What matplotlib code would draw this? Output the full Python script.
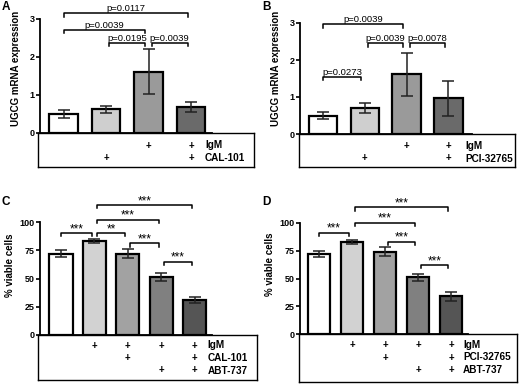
import matplotlib
matplotlib.use("Agg")
from matplotlib import pyplot as plt

plt.rcParams['font.family'] = ['Liberation Sans', 'DejaVu Sans']

W, H = 520, 388

# panel A
a_vals = [0.50, 0.62, 1.61, 0.68]
a_err = [0.10, 0.09, 0.59, 0.14]
a_rows = ['IgM', 'CAL-101']
a_plus = [[0, 0, 1, 1], [0, 1, 0, 1]]
a_brackets = [(0, 3, 3.15, 'p=0.0117'), (0, 2, 2.72, 'p=0.0039'),
              (1, 2, 2.38, 'p=0.0195'), (2, 3, 2.38, 'p=0.0039')]

# panel B
b_vals = [0.50, 0.70, 1.61, 0.96]
b_err = [0.10, 0.13, 0.59, 0.46]
b_rows = ['IgM', 'PCI-32765']
b_plus = [[0, 0, 1, 1], [0, 1, 0, 1]]
b_brackets = [(0, 2, 2.97, 'p=0.0039'), (1, 2, 2.45, 'p=0.0039'),
              (2, 3, 2.45, 'p=0.0078'), (0, 1, 1.55, 'p=0.0273')]

# panel C
c_vals = [72, 83, 72, 51, 31]
c_err = [3, 2, 4, 3.5, 3]
c_rows = ['IgM', 'CAL-101', 'ABT-737']
c_plus = [[0, 1, 1, 1, 1], [0, 0, 1, 0, 1], [0, 0, 0, 1, 1]]
c_brackets = [(0, 1, 90, '***'), (1, 4, 115, '***'), (1, 3, 102, '***'),
              (1, 2, 90, '**'), (2, 3, 81, '***'), (3, 4, 65, '***')]

# panel D
d_vals = [72, 83, 74, 51, 34]
d_err = [3, 2, 4, 3.5, 4]
d_rows = ['IgM', 'PCI-32765', 'ABT-737']
d_plus = [[0, 1, 1, 1, 1], [0, 0, 1, 0, 1], [0, 0, 0, 1, 1]]
d_brackets = [(0, 1, 91, '***'), (1, 4, 114, '***'), (1, 3, 100, '***'),
              (2, 3, 83, '***'), (3, 4, 62, '***')]

grays4 = ['white', '#cfcfcf', '#9a9a9a', '#6a6a6a']
grays5 = ['white', '#d2d2d2', '#a2a2a2', '#808080', '#555555']


def px_axes(fig, l, t, r, b):
    return fig.add_axes([l / W, 1 - b / H, (r - l) / W, (b - t) / H])


def panel(fig, letter, vals, err, rows, plus, brackets, colors, ymax, yticks,
          ylabel, g):
    # g: pixel geometry
    left, right, bottom, top = g['left'], g['right'], g['bottom'], g['top']
    c0, step, ppu = g['c0'], g['step'], g['ppu']
    n = len(vals)
    ax = px_axes(fig, left, top, right, bottom)
    x0 = -(c0 - left) / step
    x1 = x0 + (right - left) / step
    ax.set_xlim(x0, x1)
    ax.set_ylim(0, (bottom - top) / ppu)
    xs = list(range(n))
    ax.bar(xs, vals, width=g['bw'], color=colors, edgecolor='black',
           linewidth=1.6, zorder=2)
    ax.errorbar(xs, vals, yerr=err, fmt='none', ecolor='#222222',
                elinewidth=1.1, capsize=g['cap'], capthick=1.1, zorder=3)
    for s in ['top', 'right']:
        ax.spines[s].set_visible(False)
    ax.spines['left'].set_bounds(0, ymax)
    ax.spines['left'].set_linewidth(1.3)
    ax.spines['bottom'].set_linewidth(1.3)
    ax.set_xticks([])
    ax.set_yticks(yticks)
    ax.tick_params(axis='y', length=3, width=1.2, labelsize=6.5, pad=1)
    for lab in ax.get_yticklabels():
        lab.set_fontweight('bold')
    ax.set_ylabel(ylabel, fontsize=7, fontweight='bold', labelpad=g['lp'])
    tick = g['btick']
    for i, j, y, txt in brackets:
        xa, xb = i + 0.08, j - 0.08
        if i == 0:
            xa = i
        ax.plot([xa, xa, xb, xb], [y - tick, y, y, y - tick], color='black',
                lw=1.1, clip_on=False)
        if txt.startswith('*'):
            ax.text((xa + xb) / 2, y - g['btick'] * 0.6, txt, ha='center',
                    va='bottom', fontsize=8.5, clip_on=False)
        else:
            ax.text((xa + xb) / 2, y, txt, ha='center', va='bottom',
                    fontsize=6.8, clip_on=False)

    # condition table
    tl, tr, tb = g['tl'], g['tr'], g['tb']
    tax = px_axes(fig, tl, bottom, tr, tb)
    tx0 = x0 - (left - tl) / step
    tax.set_xlim(tx0, tx0 + (tr - tl) / step)
    tax.set_ylim(tb - bottom, 0)
    tax.set_xticks([])
    tax.set_yticks([])
    for s in tax.spines.values():
        s.set_linewidth(1.0)
    for r in range(len(rows)):
        ypx = g['row0'] + 12.5 * r
        for k in range(n):
            if plus[r][k]:
                tax.text(k, ypx, '+', ha='center', va='center',
                         fontsize=7, fontweight='bold')
        tax.text(n - 1 + g['lab_off'], ypx, rows[r], ha='left',
                 va='center', fontsize=7.2, fontweight='bold')
    fig.text(g['let_x'] / W, 1 - g['let_y'] / H, letter, fontsize=8.5,
             fontweight='bold', ha='left', va='center')


fig = plt.figure(figsize=(W / 100, H / 100), dpi=100)

gA = dict(left=40, right=212, bottom=133, top=3, c0=63.5, step=42.5, ppu=38,
          bw=0.68, cap=4.5, lp=6, btick=0.1, tl=38, tr=254, tb=167,
          row0=12.5, lab_off=0.33, let_x=2, let_y=7)
gB = dict(left=300, right=472, bottom=134, top=3, c0=323, step=41.8, ppu=37,
          bw=0.68, cap=4.5, lp=6, btick=0.1, tl=299, tr=515, tb=167,
          row0=12, lab_off=0.4, let_x=262, let_y=7)
gC = dict(left=40, right=212, bottom=335, top=195, c0=61, step=33.4, ppu=1.13,
          bw=0.69, cap=4.5, lp=3, btick=2.8, tl=38, tr=257, tb=380,
          row0=10.5, lab_off=0.39, let_x=2, let_y=202)
gD = dict(left=300, right=468, bottom=334, top=195, c0=319, step=33.0, ppu=1.11,
          bw=0.67, cap=4.5, lp=3, btick=2.8, tl=299, tr=517, tb=382,
          row0=11, lab_off=0.37, let_x=262, let_y=202)

panel(fig, 'A', a_vals, a_err, a_rows, a_plus, a_brackets, grays4, 3,
      [0, 1, 2, 3], 'UGCG mRNA expression', gA)
panel(fig, 'B', b_vals, b_err, b_rows, b_plus, b_brackets, grays4, 3,
      [0, 1, 2, 3], 'UGCG mRNA expression', gB)
panel(fig, 'C', c_vals, c_err, c_rows, c_plus, c_brackets, grays5, 100,
      [0, 25, 50, 75, 100], '% viable cells', gC)
panel(fig, 'D', d_vals, d_err, d_rows, d_plus, d_brackets, grays5, 100,
      [0, 25, 50, 75, 100], '% viable cells', gD)

fig.savefig('out.png', dpi=100)
